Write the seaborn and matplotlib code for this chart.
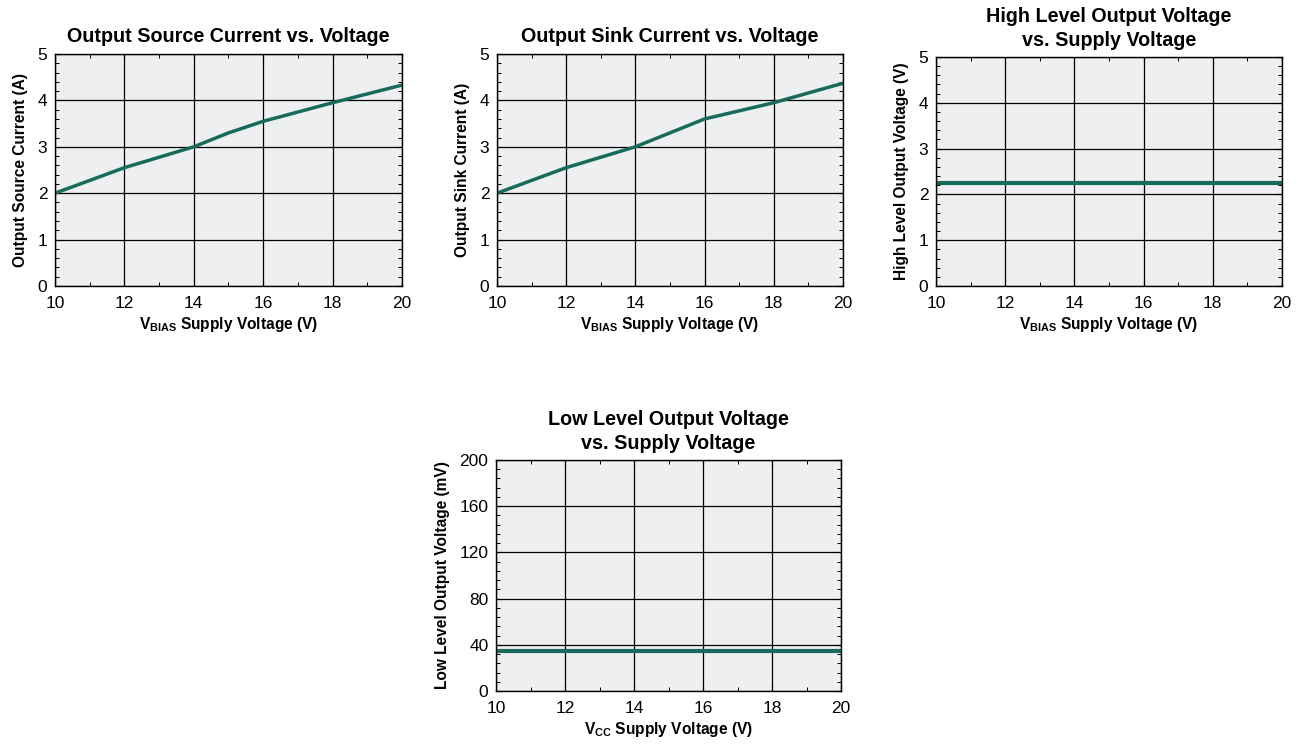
import numpy as np
import pandas as pd
import matplotlib
matplotlib.use("Agg")
import matplotlib.pyplot as plt
from matplotlib.ticker import MultipleLocator
import seaborn as sns

# values
vbias = [10, 12, 14, 15, 16, 18, 20]
source_current = [2.0, 2.55, 3.0, 3.3, 3.55, 3.95, 4.33]

vbias_sink = [10, 12, 14, 16, 18, 20]
sink_current = [2.0, 2.55, 3.0, 3.6, 3.95, 4.37]

vsupply = [10, 20]
high_level_v = [2.25, 2.25]
low_level_mv = [35, 35]

sns.set_theme(style="ticks")
plt.rcParams["font.family"] = ["Liberation Sans", "DejaVu Sans"]
plt.rcParams["mathtext.fontset"] = "custom"
plt.rcParams["mathtext.rm"] = "Liberation Sans:bold"
plt.rcParams["mathtext.bf"] = "Liberation Sans:bold"
plt.rcParams["text.color"] = "black"
plt.rcParams["axes.labelcolor"] = "black"
plt.rcParams["xtick.color"] = "black"
plt.rcParams["ytick.color"] = "black"

line_color = "#176b5c"
bg = "#eeeff0"

fig = plt.figure(figsize=(13.03, 7.44), dpi=100)


def style_axis(ax, title, xlabel, ylabel, ymax, ymajor, yminor):
    ax.set_facecolor(bg)
    ax.set_xlim(10, 20)
    ax.set_ylim(0, ymax)
    ax.xaxis.set_major_locator(MultipleLocator(2))
    ax.xaxis.set_minor_locator(MultipleLocator(1))
    ax.yaxis.set_major_locator(MultipleLocator(ymajor))
    ax.yaxis.set_minor_locator(MultipleLocator(yminor))
    ax.grid(True, which="major", color="black", linewidth=0.9)
    ax.set_axisbelow(True)
    ax.tick_params(which="both", direction="in", top=True, right=True,
                   labelsize=12.5, color="black", labelcolor="black")
    ax.tick_params(axis="x", which="both", pad=7)
    ax.tick_params(axis="y", which="both", pad=5.5)
    ax.tick_params(which="major", length=4, width=0.8)
    ax.tick_params(which="minor", length=3, width=0.7)
    for s in ax.spines.values():
        s.set_color("black")
        s.set_linewidth(1.0)
    two_lines = "\n" in title
    ax.set_title(title, fontsize=14.2, fontweight="bold",
                 pad=8 if two_lines else 9, linespacing=1.35)
    ax.set_xlabel(xlabel, fontsize=11.2, fontweight="bold", labelpad=3)
    ax.set_ylabel(ylabel, fontsize=11.2, fontweight="bold", labelpad=7)
    if ax.get_legend() is not None:
        ax.get_legend().remove()


ax1 = fig.add_axes([0.0422, 0.6156, 0.2663, 0.3118])
sns.lineplot(x=vbias, y=source_current, ax=ax1, color=line_color, linewidth=2.5)
style_axis(ax1, "Output Source Current vs. Voltage",
           r"V$_{\mathrm{BIAS}}$ Supply Voltage (V)", "Output Source Current (A)", 5, 1, 0.2)

ax2 = fig.add_axes([0.3814, 0.6156, 0.2655, 0.3118])
sns.lineplot(x=vbias_sink, y=sink_current, ax=ax2, color=line_color, linewidth=2.5)
style_axis(ax2, "Output Sink Current vs. Voltage",
           r"V$_{\mathrm{BIAS}}$ Supply Voltage (V)", "Output Sink Current (A)", 5, 1, 0.2)

ax3 = fig.add_axes([0.7183, 0.6156, 0.2655, 0.3078])
sns.lineplot(x=vsupply, y=high_level_v, ax=ax3, color=line_color, linewidth=3)
style_axis(ax3, "High Level Output Voltage\nvs. Supply Voltage",
           r"V$_{\mathrm{BIAS}}$ Supply Voltage (V)", "High Level Output Voltage (V)", 5, 1, 0.2)

ax4 = fig.add_axes([0.3807, 0.0712, 0.2648, 0.3105])
sns.lineplot(x=vsupply, y=low_level_mv, ax=ax4, color=line_color, linewidth=3)
style_axis(ax4, "Low Level Output Voltage\nvs. Supply Voltage",
           r"V$_{\mathrm{CC}}$ Supply Voltage (V)", "Low Level Output Voltage (mV)", 200, 40, 8)

fig.savefig("out.png", dpi=100)
